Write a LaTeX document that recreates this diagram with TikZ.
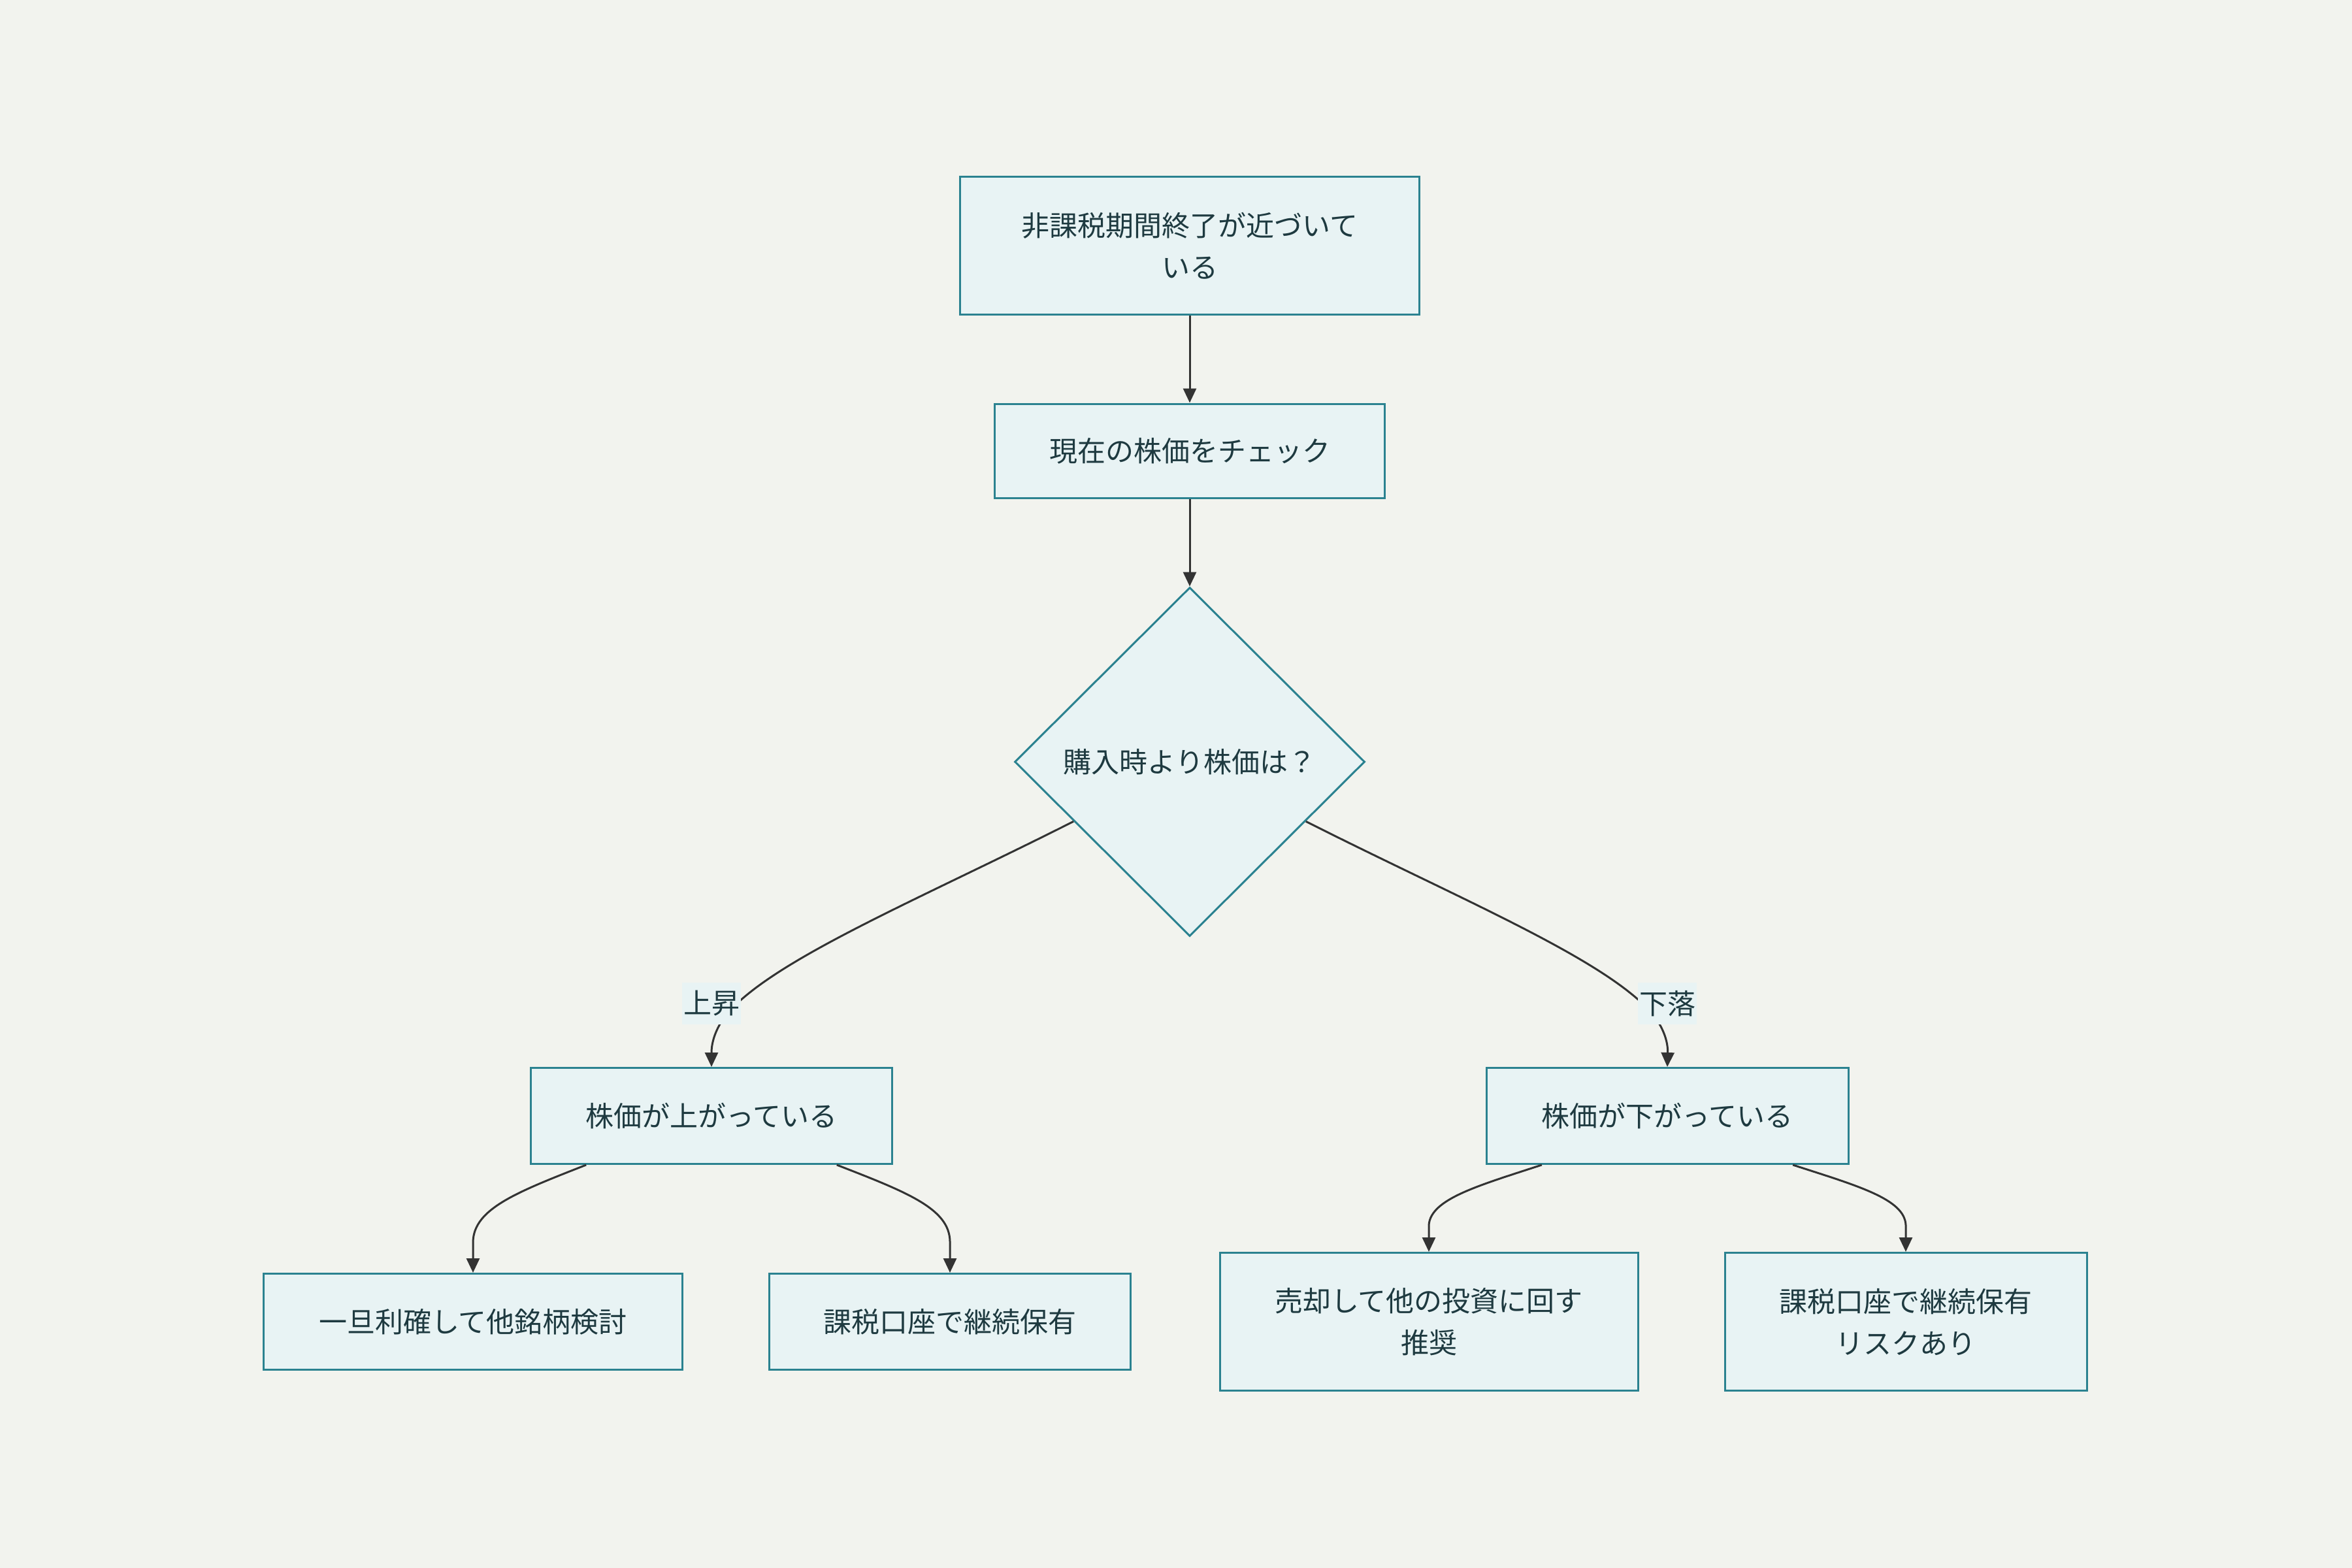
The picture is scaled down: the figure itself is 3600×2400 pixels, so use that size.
\documentclass[tikz,border=0pt]{standalone}
\usepackage{fontspec}
\newfontfamily\cjk{Noto Sans CJK JP}
\usetikzlibrary{shapes.geometric,arrows.meta,calc}
\definecolor{bg}{HTML}{F2F3EE}
\definecolor{boxfill}{HTML}{E8F3F4}
\definecolor{boxline}{HTML}{2B8290}
\definecolor{txt}{HTML}{1E3A40}
\definecolor{edgecol}{HTML}{333333}
\tikzset{
  base/.style={draw=boxline, fill=boxfill, line width=1.5pt, text=txt, inner sep=0pt,
    font=\cjk\fontsize{21.5}{32}\selectfont, align=center},
  procbox/.style={base, rectangle},
  decision/.style={base, diamond, aspect=1},
  edge/.style={draw=edgecol, line width=1.5pt, -{Triangle[length=11pt,width=10pt]}},
  elabel/.style={fill=boxfill, text=txt, inner sep=0pt, minimum width=45pt, minimum height=32pt,
    font=\cjk\fontsize{21.5}{32}\selectfont}
}
\begin{document}
\begin{tikzpicture}[x=0.5pt,y=-0.5pt]
\fill[bg] (0,0) rectangle (3600,2400);
\useasboundingbox (0,0) rectangle (3600,2400);

\node[procbox, minimum width=351.5pt, minimum height=105.5pt] (n1) at (1821,376) {非課税期間終了が近づいて\\いる};
\node[procbox, minimum width=298.5pt, minimum height=72pt] (n2) at (1821,690) {現在の株価をチェック};
\node[decision, minimum width=268pt, minimum height=267pt] (d) at (1821,1166) {購入時より株価は？};
\node[procbox, minimum width=276.5pt, minimum height=73.5pt] (up) at (1089,1708) {株価が上がっている};
\node[procbox, minimum width=277pt, minimum height=73.5pt] (down) at (2552,1708) {株価が下がっている};
\node[procbox, minimum width=320.5pt, minimum height=73.5pt] (c1) at (724,2023) {一旦利確して他銘柄検討};
\node[procbox, minimum width=276.5pt, minimum height=73.5pt] (c2) at (1454,2023) {課税口座で継続保有};
\node[procbox, minimum width=320pt, minimum height=105.5pt] (c3) at (2187,2023) {売却して他の投資に回す\\推奨};
\node[procbox, minimum width=277pt, minimum height=105.5pt] (c4) at (2917,2023) {課税口座で継続保有\\リスクあり};

\draw[edge] (n1.south) -- (n2.north);
\draw[edge] (n2.south) -- (d.north);

\draw[edge] ($(d.west)!0.34!(d.south)$) .. controls (1400,1380) and (1180,1470) .. (1110,1555)
  .. controls (1092,1580) and (1089,1600) .. (up.north);
\draw[edge] ($(d.east)!0.34!(d.south)$) .. controls (2242,1380) and (2462,1470) .. (2532,1555)
  .. controls (2550,1580) and (2553,1600) .. (down.north);

\node[elabel] (lup) at (1089,1536) {上昇};
\node[elabel] (ldown) at (2552,1536) {下落};

\draw[edge] ($(up.south west)!0.155!(up.south east)$) .. controls (790,1825) and (726,1850) .. (724,1900) -- (c1.north);
\draw[edge] ($(up.south west)!0.845!(up.south east)$) .. controls (1389,1825) and (1453,1850) .. (1454,1900) -- (c2.north);
\draw[edge] ($(down.south west)!0.155!(down.south east)$) .. controls (2262,1815) and (2190,1835) .. (2187,1875) -- (c3.north);
\draw[edge] ($(down.south west)!0.845!(down.south east)$) .. controls (2843,1815) and (2915,1835) .. (2917,1875) -- (c4.north);
\end{tikzpicture}
\end{document}
